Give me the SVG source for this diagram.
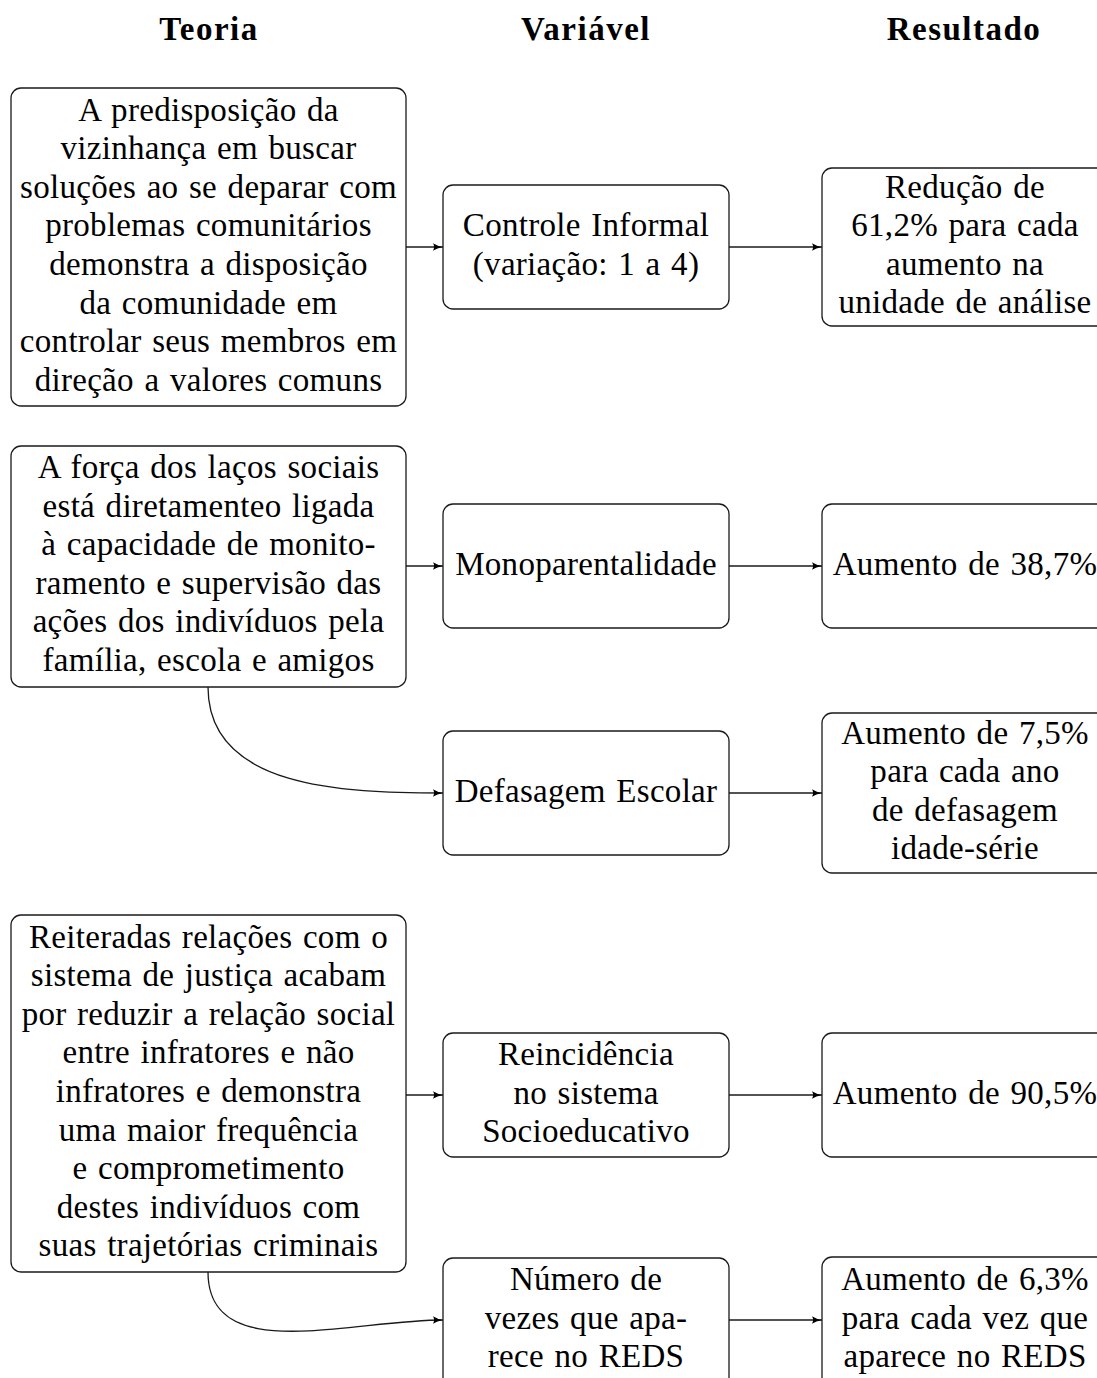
<svg xmlns="http://www.w3.org/2000/svg" width="1097" height="1378" viewBox="0 0 1097 1378">
<style>
.box{fill:#fff;stroke:#1a1a1a;stroke-width:1.3}
.t{font-family:"Liberation Serif","Times New Roman",serif;font-size:33px;letter-spacing:0.3px;word-spacing:2px;text-anchor:middle;fill:#000}
.h{font-family:"Liberation Serif","Times New Roman",serif;font-size:33px;font-weight:bold;letter-spacing:1.5px;text-anchor:middle;fill:#000}
.c{fill:none;stroke:#1a1a1a;stroke-width:1.3}
</style>
<defs>
<marker id="arr" markerUnits="userSpaceOnUse" markerWidth="12" markerHeight="10" refX="10" refY="4" orient="auto" viewBox="0 0 12 8">
<path d="M0,0.3 Q4,3 10,4 Q4,5 0,7.7 Q2.2,4 0,0.3 z" fill="#000"/>
</marker>
</defs>
<rect width="1097" height="1378" fill="#fff"/>
<g id="headers">
<text class="h" x="209" y="40">Teoria</text>
<text class="h" x="586" y="40">Variável</text>
<text class="h" x="964" y="40">Resultado</text>
</g>
<g id="connectors">
<line class="c" x1="406" y1="247" x2="443" y2="247" marker-end="url(#arr)"/>
<line class="c" x1="729" y1="247" x2="822" y2="247" marker-end="url(#arr)"/>
<line class="c" x1="406" y1="566" x2="443" y2="566" marker-end="url(#arr)"/>
<line class="c" x1="729" y1="566" x2="822" y2="566" marker-end="url(#arr)"/>
<path class="c" d="M208,687 C208,788 342,793 443,793" marker-end="url(#arr)"/>
<line class="c" x1="729" y1="793" x2="822" y2="793" marker-end="url(#arr)"/>
<line class="c" x1="406" y1="1095" x2="443" y2="1095" marker-end="url(#arr)"/>
<line class="c" x1="729" y1="1095" x2="822" y2="1095" marker-end="url(#arr)"/>
<path class="c" d="M208,1272 C208,1366 349,1320 443,1320" marker-end="url(#arr)"/>
<line class="c" x1="729" y1="1320" x2="822" y2="1320" marker-end="url(#arr)"/>
</g>
<g id="teoria1">
<rect class="box" x="11" y="88" width="395" height="318" rx="10"/>
<text class="t" x="208.5" y="120.7">A predisposição da</text>
<text class="t" x="208.5" y="159.3">vizinhança em buscar</text>
<text class="t" x="208.5" y="197.9">soluções ao se deparar com</text>
<text class="t" x="208.5" y="236.4">problemas comunitários</text>
<text class="t" x="208.5" y="275">demonstra a disposição</text>
<text class="t" x="208.5" y="313.6">da comunidade em</text>
<text class="t" x="208.5" y="352.2">controlar seus membros em</text>
<text class="t" x="208.5" y="390.7">direção a valores comuns</text>
</g>
<g id="var1">
<rect class="box" x="443" y="185" width="286" height="124" rx="10"/>
<text class="t" x="586" y="235.5">Controle Informal</text>
<text class="t" x="586" y="274.5">(variação: 1 a 4)</text>
</g>
<g id="res1">
<rect class="box" x="822" y="168" width="290" height="158" rx="10"/>
<text class="t" x="965" y="197.6">Redução de</text>
<text class="t" x="965" y="236.2">61,2% para cada</text>
<text class="t" x="965" y="274.8">aumento na</text>
<text class="t" x="965" y="313.4">unidade de análise</text>
</g>
<g id="teoria2">
<rect class="box" x="11" y="446" width="395" height="241" rx="10"/>
<text class="t" x="208.5" y="478">A força dos laços sociais</text>
<text class="t" x="208.5" y="516.6">está diretamenteo ligada</text>
<text class="t" x="208.5" y="555.2">à capacidade de monito-</text>
<text class="t" x="208.5" y="593.8">ramento e supervisão das</text>
<text class="t" x="208.5" y="632.4">ações dos indivíduos pela</text>
<text class="t" x="208.5" y="671">família, escola e amigos</text>
</g>
<g id="var2">
<rect class="box" x="443" y="504" width="286" height="124" rx="10"/>
<text class="t" x="586" y="574.5">Monoparentalidade</text>
</g>
<g id="res2">
<rect class="box" x="822" y="504" width="290" height="124" rx="10"/>
<text class="t" x="965" y="574.5">Aumento de 38,7%</text>
</g>
<g id="var3">
<rect class="box" x="443" y="731" width="286" height="124" rx="10"/>
<text class="t" x="586" y="801.5">Defasagem Escolar</text>
</g>
<g id="res3">
<rect class="box" x="822" y="713" width="290" height="160" rx="10"/>
<text class="t" x="965" y="743.6">Aumento de 7,5%</text>
<text class="t" x="965" y="782.2">para cada ano</text>
<text class="t" x="965" y="820.8">de defasagem</text>
<text class="t" x="965" y="859.4">idade-série</text>
</g>
<g id="teoria3">
<rect class="box" x="11" y="915" width="395" height="357" rx="10"/>
<text class="t" x="208.5" y="947.6">Reiteradas relações com o</text>
<text class="t" x="208.5" y="986.2">sistema de justiça acabam</text>
<text class="t" x="208.5" y="1024.8">por reduzir a relação social</text>
<text class="t" x="208.5" y="1063.4">entre infratores e não</text>
<text class="t" x="208.5" y="1102">infratores e demonstra</text>
<text class="t" x="208.5" y="1140.6">uma maior frequência</text>
<text class="t" x="208.5" y="1179.2">e comprometimento</text>
<text class="t" x="208.5" y="1217.8">destes indivíduos com</text>
<text class="t" x="208.5" y="1256.4">suas trajetórias criminais</text>
</g>
<g id="var4">
<rect class="box" x="443" y="1033" width="286" height="124" rx="10"/>
<text class="t" x="586" y="1064.9">Reincidência</text>
<text class="t" x="586" y="1103.5">no sistema</text>
<text class="t" x="586" y="1142.1">Socioeducativo</text>
</g>
<g id="res4">
<rect class="box" x="822" y="1033" width="290" height="124" rx="10"/>
<text class="t" x="965" y="1103.5">Aumento de 90,5%</text>
</g>
<g id="var5">
<rect class="box" x="443" y="1258" width="286" height="130" rx="10"/>
<text class="t" x="586" y="1290">Número de</text>
<text class="t" x="586" y="1328.6">vezes que apa-</text>
<text class="t" x="586" y="1367.2">rece no REDS</text>
</g>
<g id="res5">
<rect class="box" x="822" y="1257" width="290" height="130" rx="10"/>
<text class="t" x="965" y="1290">Aumento de 6,3%</text>
<text class="t" x="965" y="1328.6">para cada vez que</text>
<text class="t" x="965" y="1367.2">aparece no REDS</text>
</g>
</svg>
